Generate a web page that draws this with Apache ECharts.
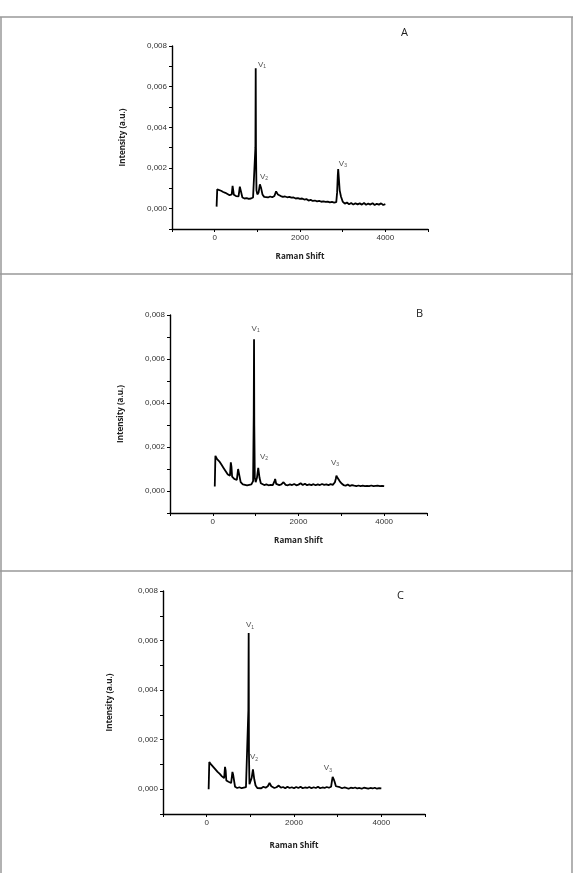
<!DOCTYPE html>
<html>
<head>
<meta charset="utf-8">
<script src="https://cdn.jsdelivr.net/npm/echarts@6/dist/echarts.min.js"></script>
<style>
  html, body { margin: 0; background: #fff; }
  #chart { width: 573px; height: 873px; }
</style>
</head>
<body>
<div id="chart"></div>
<script>
// Raman shift values shared by the three spectra
const shift = [45, 60, 70, 100, 150, 200, 250, 300, 350, 400, 420, 435, 450, 500, 560, 590, 605, 650, 700, 750,
  800, 850, 900, 940, 955, 962, 968, 980, 1000, 1030, 1060, 1075, 1090, 1120, 1160, 1200, 1250, 1300, 1350, 1400,
  1440, 1455, 1480, 1550, 1600, 1650, 1700, 1750, 1800, 1850, 1900, 1950, 2000, 2050, 2100, 2150, 2200, 2250, 2300, 2350,
  2400, 2450, 2500, 2550, 2600, 2650, 2700, 2750, 2800, 2850, 2870, 2885, 2895, 2910, 2930, 2960, 3000, 3050, 3100, 3150,
  3200, 3250, 3300, 3350, 3400, 3450, 3500, 3550, 3600, 3650, 3700, 3750, 3800, 3850, 3900, 3950, 4000];

const intensityA = [0.0001, 0.00095, 0.00098, 0.0009, 0.00088, 0.00082, 0.00078, 0.00072, 0.00066, 0.0007, 0.00112, 0.00105, 0.00068, 0.00062, 0.0006, 0.00108, 0.00095, 0.00055, 0.0005, 0.00052,
  0.00048, 0.0005, 0.00055, 0.00062, 0.003, 0.0069, 0.003, 0.0009, 0.0007, 0.0008, 0.0012, 0.00128, 0.001, 0.0007, 0.00058, 0.00062, 0.00055, 0.0006, 0.00056, 0.00062,
  0.00085, 0.00088, 0.0007, 0.00062, 0.00058, 0.0006, 0.00056, 0.00058, 0.00054, 0.00055, 0.0005, 0.00052, 0.00048, 0.0005, 0.00045, 0.00047, 0.0004, 0.00043, 0.00038, 0.0004,
  0.00036, 0.00038, 0.00034, 0.00036, 0.00033, 0.00035, 0.00031, 0.00033, 0.0003, 0.00032, 0.0008, 0.0016, 0.00195, 0.0015, 0.0009, 0.0006, 0.00035, 0.00025, 0.0003, 0.00022,
  0.00028, 0.0002, 0.00027, 0.00021, 0.00026, 0.0002, 0.00028, 0.00019, 0.00025, 0.0002, 0.00027, 0.00018, 0.00024, 0.0002, 0.00026, 0.00018, 0.00022];

const intensityB = [0.0002, 0.0016, 0.00155, 0.00145, 0.00135, 0.0012, 0.00105, 0.0009, 0.00075, 0.0007, 0.0013, 0.0011, 0.00065, 0.00055, 0.0005, 0.001, 0.00085, 0.0004, 0.0003, 0.00028,
  0.00026, 0.00028, 0.0003, 0.00045, 0.0035, 0.0069, 0.003, 0.0006, 0.0004, 0.0006, 0.00105, 0.0011, 0.0006, 0.00035, 0.00028, 0.00027, 0.0003, 0.00026, 0.00028, 0.00027,
  0.00045, 0.00055, 0.00032, 0.00027, 0.0003, 0.0004, 0.00028, 0.00026, 0.0003, 0.00027, 0.00032, 0.00026, 0.00029, 0.00035, 0.00027, 0.00033, 0.00026, 0.0003, 0.00027, 0.00031,
  0.00026, 0.0003, 0.00027, 0.00032, 0.00028, 0.0003, 0.00027, 0.00031, 0.00028, 0.0004, 0.00055, 0.0007, 0.00078, 0.0006, 0.00055, 0.00045, 0.00035, 0.00027, 0.00024, 0.0003,
  0.00023, 0.00027, 0.00024, 0.00022, 0.00025, 0.00022, 0.00024, 0.00022, 0.00023, 0.00022, 0.00025, 0.00022, 0.00023, 0.00024, 0.00022, 0.00023, 0.00022];

const intensityC = [0.0, 0.0011, 0.00108, 0.001, 0.0009, 0.0008, 0.0007, 0.00062, 0.00052, 0.00045, 0.0009, 0.00075, 0.00035, 0.0003, 0.00025, 0.0007, 0.0006, 0.0001, 0.00005, 0.00008,
  0.00004, 0.00006, 0.00008, 0.00015, 0.0032, 0.0063, 0.0015, 0.0002, 0.00025, 0.00045, 0.0008, 0.00085, 0.0004, 0.00015, 0.00005, 0.00008, 0.00004, 0.0001, 0.00006, 0.00012,
  0.00025, 0.0003, 0.00012, 0.00005, 0.00008, 0.00015, 0.00006, 0.00009, 0.00004, 0.0001, 0.00005, 0.00008, 0.00004, 0.00009, 0.00005, 0.0001, 0.00004, 0.00007, 0.00005, 0.00009,
  0.00004, 0.00008, 0.00005, 0.0001, 0.00004, 0.00007, 0.00005, 0.00009, 0.00006, 0.0001, 0.00035, 0.0005, 0.00048, 0.0004, 0.0003, 0.00012, 0.00006, 0.00008, 0.00004, 0.00007,
  0.00005, 0.00002, 0.00006, 0.00004, 0.00007, 0.00003, 0.00005, 0.00002, 0.00006, 0.00004, 0.00002, 0.00005, 0.00003, 0.00006, 0.00002, 0.00004, 0.00003];

// peak annotations: [shift, intensity, subscript]
const peaksA = [[1108, 0.0071, '1'], [1155, 0.00156, '2'], [3005, 0.0022, '3']];
const peaksB = [[1000, 0.00736, '1'], [1196, 0.00155, '2'], [2853, 0.00127, '3']];
const peaksC = [[992, 0.00662, '1'], [1083, 0.00129, '2'], [2777, 0.00085, '3']];

const panelLetters = ['A', 'B', 'C'];

const chart = echarts.init(document.getElementById('chart'));

const grids = [
  { left: 172, top: 46, width: 256, height: 183 },
  { left: 170, top: 315, width: 257, height: 198 },
  { left: 163, top: 591, width: 262, height: 223 }
];
const yNameGaps = [45, 45, 49];
const xNameGaps = [24, 24, 28];
const spectra = [intensityA, intensityB, intensityC];
const peaks = [peaksA, peaksB, peaksC];

const tickFont = { fontFamily: 'Liberation Sans', fontSize: 8, color: '#333' };
const nameFont = { fontFamily: 'Open Sans', fontSize: 8, fontWeight: 'bold', color: '#222' };

const xAxes = grids.map((g, i) => ({
  gridIndex: i, type: 'value', min: -1000, max: 5000, interval: 1000,
  name: 'Raman Shift', nameLocation: 'middle', nameGap: xNameGaps[i], nameTextStyle: nameFont,
  axisLine: { onZero: false, lineStyle: { color: '#000', width: 1.4 } },
  axisTick: { length: 3, lineStyle: { color: '#000' } },
  splitLine: { show: false },
  axisLabel: Object.assign({ margin: 5, formatter: v => (v >= 0 && v % 2000 === 0 ? String(v) : '') }, tickFont)
}));

const yAxes = grids.map((g, i) => ({
  gridIndex: i, type: 'value', min: -0.001, max: 0.008, interval: 0.001,
  name: 'Intensity (a.u.)', nameLocation: 'middle', nameRotate: 90, nameGap: yNameGaps[i], nameTextStyle: nameFont,
  axisLine: { onZero: false, lineStyle: { color: '#000', width: 1.4 } },
  axisTick: { length: 3, lineStyle: { color: '#000' } },
  splitLine: { show: false },
  axisLabel: Object.assign({
    margin: 5,
    formatter: v => {
      const k = Math.round(v * 1000);
      return k >= 0 && k % 2 === 0 ? (k / 1000).toFixed(3).replace('.', ',') : '';
    }
  }, tickFont)
}));

const series = [];
spectra.forEach((vals, i) => {
  series.push({
    type: 'line', xAxisIndex: i, yAxisIndex: i, showSymbol: false, symbol: 'none',
    lineStyle: { color: '#000', width: 1.8 },
    data: shift.map((s, j) => [s, vals[j]])
  });
  series.push({
    type: 'scatter', xAxisIndex: i, yAxisIndex: i, symbolSize: 0, silent: true,
    data: peaks[i].map(p => ({ value: [p[0], p[1]], sub: p[2] })),
    label: {
      show: true, position: 'inside',
      formatter: p => '{v|V}{s|' + p.data.sub + '}',
      rich: {
        v: { fontFamily: 'Liberation Sans', fontSize: 8, color: '#222' },
        s: { fontFamily: 'Liberation Sans', fontSize: 5, color: '#222', padding: [4, 0, 0, 0] }
      }
    }
  });
});

const border = { stroke: '#999', lineWidth: 1.5 };
const graphic = [
  { type: 'line', shape: { x1: 0, y1: 17, x2: 573, y2: 17 }, style: border },
  { type: 'line', shape: { x1: 1, y1: 17, x2: 1, y2: 873 }, style: border },
  { type: 'line', shape: { x1: 572, y1: 17, x2: 572, y2: 873 }, style: border },
  { type: 'line', shape: { x1: 0, y1: 274, x2: 573, y2: 274 }, style: border },
  { type: 'line', shape: { x1: 0, y1: 571, x2: 573, y2: 571 }, style: border },
  { type: 'text', x: 401, y: 27, style: { text: panelLetters[0], font: '11px "Open Sans"', fill: '#222' } },
  { type: 'text', x: 416, y: 308, style: { text: panelLetters[1], font: '11px "Open Sans"', fill: '#222' } },
  { type: 'text', x: 397, y: 590, style: { text: panelLetters[2], font: '11px "Open Sans"', fill: '#222' } }
];

chart.setOption({
  animation: false,
  backgroundColor: '#fff',
  grid: grids,
  xAxis: xAxes,
  yAxis: yAxes,
  series: series,
  graphic: graphic
});
</script>
</body>
</html>
